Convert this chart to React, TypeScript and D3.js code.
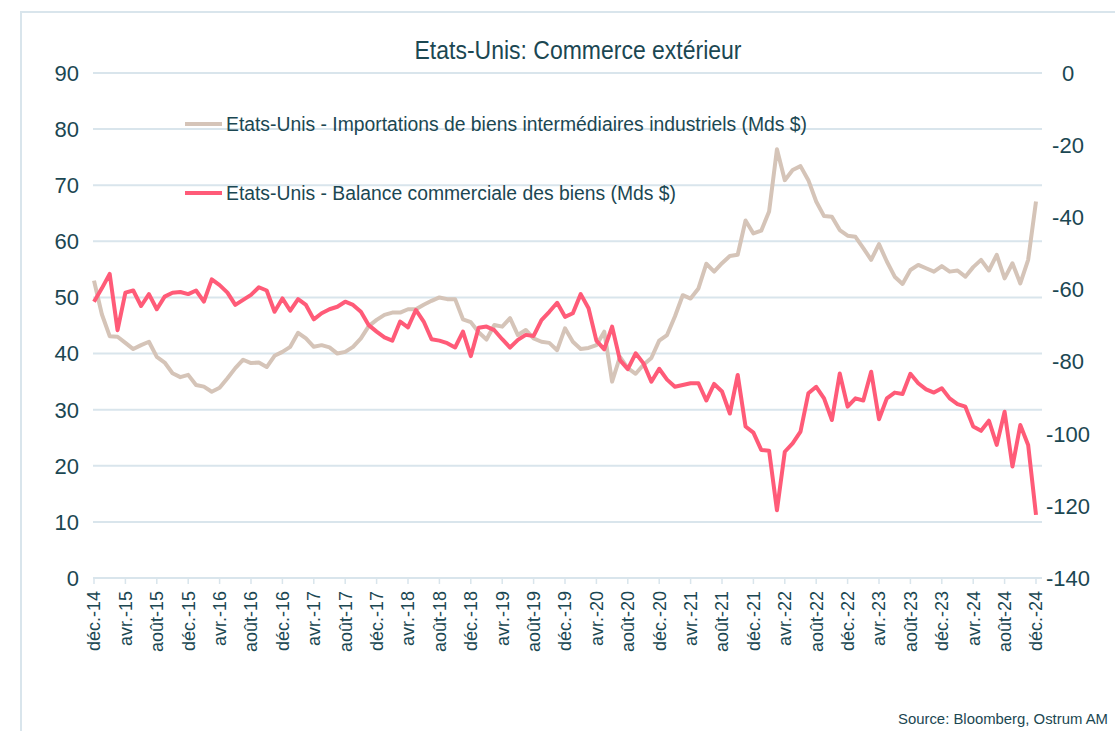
import React from 'react';
import * as d3 from 'd3';

const imports: number[] = [
  53.0, 47.0, 43.1, 43.0, 41.9, 40.8, 41.5, 42.1, 39.4, 38.4,
  36.5, 35.8, 36.2, 34.4, 34.1, 33.2, 33.9, 35.6, 37.4, 38.9,
  38.3, 38.4, 37.6, 39.6, 40.3, 41.2, 43.7, 42.7, 41.2, 41.5,
  41.1, 40.0, 40.3, 41.2, 42.7, 44.9, 46.0, 46.9, 47.3, 47.3,
  47.9, 47.9, 48.7, 49.4, 50.0, 49.7, 49.7, 46.1, 45.6, 43.8,
  42.5, 45.1, 44.8, 46.3, 43.3, 44.2, 42.7, 42.1, 41.9, 40.6,
  44.5, 42.1, 40.8, 41.0, 41.5, 43.9, 35.0, 39.4, 37.4, 36.4,
  38.0, 39.2, 42.3, 43.3, 46.6, 50.4, 49.8, 51.6, 56.0, 54.6,
  56.1, 57.4, 57.6, 63.7, 61.4, 61.9, 65.3, 76.4, 70.9, 72.7,
  73.4, 70.9, 67.1, 64.5, 64.4, 62.0, 61.0, 60.8, 58.8, 56.7,
  59.5, 56.4, 53.7, 52.4, 54.9, 55.8, 55.2, 54.6, 55.6, 54.6,
  54.8, 53.7, 55.4, 56.7, 54.8, 57.6, 53.4, 56.1, 52.5, 56.7,
  67.1,
];

const balance: number[] = [
  -63.4, -59.7, -55.7, -71.3, -60.9, -60.3, -64.6, -61.3, -65.5, -62.0,
  -60.9, -60.7, -61.3, -60.3, -63.4, -57.2, -58.8, -60.9, -64.3, -62.9,
  -61.5, -59.4, -60.3, -66.2, -62.5, -65.9, -62.7, -64.3, -68.3, -66.6,
  -65.5, -64.8, -63.4, -64.3, -66.2, -69.9, -71.7, -73.3, -74.2, -68.9,
  -70.5, -65.7, -68.9, -73.8, -74.2, -74.9, -76.1, -71.7, -78.5, -70.6,
  -70.3, -71.3, -73.8, -76.1, -74.0, -72.6, -72.9, -68.5, -66.2, -63.7,
  -67.6, -66.6, -61.3, -65.2, -74.2, -76.6, -70.3, -79.6, -82.1, -77.7,
  -80.5, -85.6, -82.0, -85.0, -87.0, -86.5, -86.0, -86.0, -90.8, -86.2,
  -88.3, -94.4, -83.7, -98.0, -99.7, -104.5, -104.7, -121.2, -105.0, -102.7,
  -99.4, -88.8, -87.0, -90.2, -96.2, -83.3, -92.5, -90.2, -90.8, -82.8,
  -96.0, -90.2, -88.6, -89.0, -83.4, -86.0, -87.7, -88.6, -87.4, -90.2,
  -91.8, -92.5, -98.0, -99.2, -96.4, -103.1, -93.9, -109.1, -97.6, -103.1,
  -122.5,
];

const tickLabels: string[] = [
  'déc.-14', 'avr.-15', 'août-15', 'déc.-15', 'avr.-16', 'août-16', 'déc.-16',
  'avr.-17', 'août-17', 'déc.-17', 'avr.-18', 'août-18', 'déc.-18', 'avr.-19',
  'août-19', 'déc.-19', 'avr.-20', 'août-20', 'déc.-20', 'avr.-21', 'août-21',
  'déc.-21', 'avr.-22', 'août-22', 'déc.-22', 'avr.-23', 'août-23', 'déc.-23',
  'avr.-24', 'août-24', 'déc.-24',
];

const leftTicks: number[] = [0, 10, 20, 30, 40, 50, 60, 70, 80, 90];
const rightTicks: number[] = [-140, -120, -100, -80, -60, -40, -20, 0];

const title = 'Etats-Unis: Commerce extérieur';
const legendImports = 'Etats-Unis - Importations de biens intermédiaires industriels (Mds $)';
const legendBalance = 'Etats-Unis - Balance commerciale des biens (Mds $)';
const source = 'Source: Bloomberg, Ostrum AM';

const TEXT = '#1b4752';
const GRID = '#d9e5ec';
const BEIGE = '#d5c4b8';
const RED = '#ff5b78';
const NARROW = '"Liberation Sans Narrow", "Arial Narrow", "Liberation Sans", Arial, sans-serif';
const REG = '"Liberation Sans", Arial, sans-serif';

export default function App() {
  const n = imports.length;
  const x = d3.scaleLinear().domain([0, n - 1]).range([94, 1036]);
  const yL = d3.scaleLinear().domain([0, 90]).range([578, 73]);
  const yR = d3.scaleLinear().domain([-140, 0]).range([578, 73]);

  const lineL = d3.line<number>().x((_, i) => x(i)).y((d) => yL(d));
  const lineR = d3.line<number>().x((_, i) => x(i)).y((d) => yR(d));

  return (
    <svg
      width={1115}
      height={731}
      style={{ position: 'absolute', left: 0, top: 0, background: '#fff' }}
    >
      <rect x={21} y={12} width={1200} height={800} fill="none" stroke={GRID} strokeWidth={2} />
      <text x={578} y={59} textAnchor="middle" fontFamily={NARROW} fontSize={25} fill={TEXT}
        textLength={327} lengthAdjust="spacingAndGlyphs">{title}</text>

      {leftTicks.map((v) => (
        <line key={'g' + v} x1={93} x2={1042} y1={yL(v)} y2={yL(v)} stroke={GRID} strokeWidth={2} />
      ))}
      {tickLabels.map((t, k) => (
        <line key={'t' + k} x1={x(k * 4)} x2={x(k * 4)} y1={578} y2={584} stroke={GRID} strokeWidth={1.5} />
      ))}

      {leftTicks.map((v) => (
        <text key={'l' + v} x={79} y={yL(v)} dy="0.36em" textAnchor="end" fontFamily={NARROW}
          fontSize={22} fill={TEXT}>{v}</text>
      ))}
      {rightTicks.map((v) => (
        <text key={'r' + v} x={1068} y={yR(v)} dy="0.36em" textAnchor="middle" fontFamily={NARROW}
          fontSize={22} fill={TEXT}>{v}</text>
      ))}
      {tickLabels.map((t, k) => (
        <text key={'x' + k} transform={`translate(${x(k * 4)},591) rotate(-90)`} textAnchor="end"
          dy="0.36em" fontFamily={REG} fontSize={18} fill={TEXT}>{t}</text>
      ))}

      <path d={lineL(imports) || ''} fill="none" stroke={BEIGE} strokeWidth={4} strokeLinejoin="round" />
      <path d={lineR(balance) || ''} fill="none" stroke={RED} strokeWidth={4} strokeLinejoin="round" />

      <line x1={185} x2={222} y1={124} y2={124} stroke={BEIGE} strokeWidth={4} />
      <text x={226} y={131} fontFamily={NARROW} fontSize={20} fill={TEXT}
        textLength={581} lengthAdjust="spacingAndGlyphs">{legendImports}</text>
      <line x1={185} x2={222} y1={193} y2={193} stroke={RED} strokeWidth={4} />
      <text x={226} y={200} fontFamily={NARROW} fontSize={20} fill={TEXT}
        textLength={450} lengthAdjust="spacingAndGlyphs">{legendBalance}</text>

      <text x={898} y={724} fontFamily={NARROW} fontSize={15} fill={TEXT}
        textLength={210} lengthAdjust="spacingAndGlyphs">{source}</text>
    </svg>
  );
}
